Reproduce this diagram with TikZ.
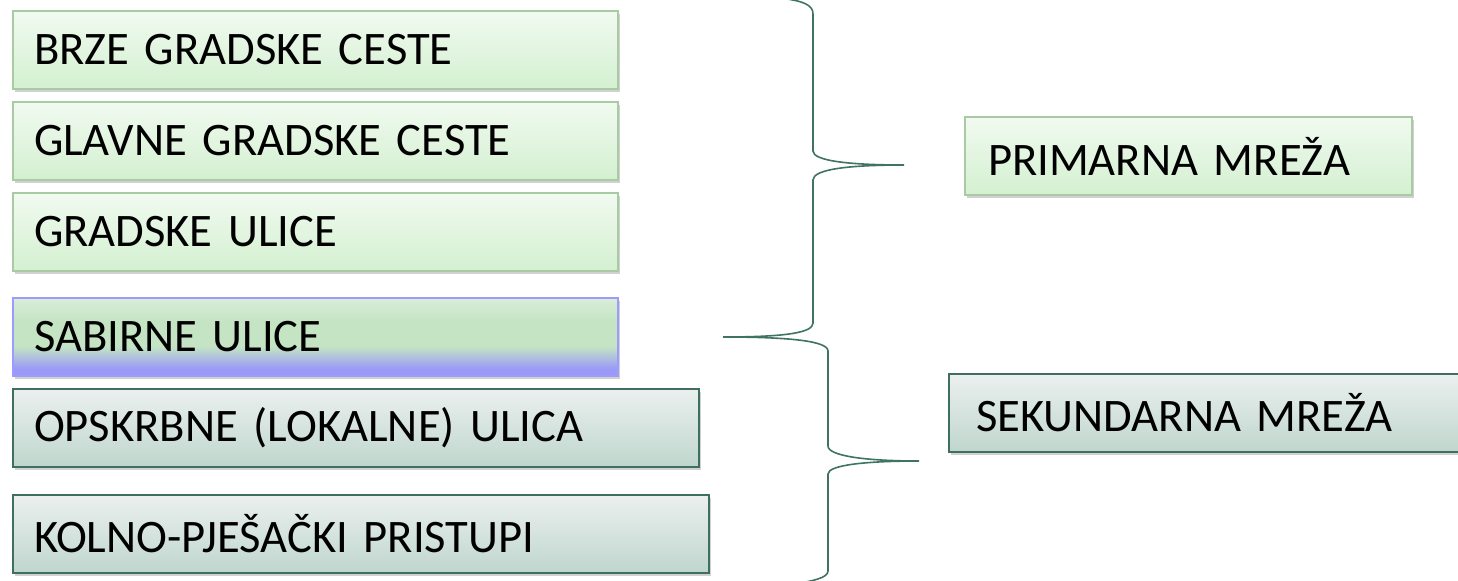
\documentclass[tikz,border=0pt]{standalone}
\usepackage{fontspec}
\setmainfont{Carlito}
\usetikzlibrary{positioning, shadows}
\definecolor{PRtop}{HTML}{F1FAF0}
\definecolor{PRbot}{HTML}{D3F0D0}
\definecolor{PRline}{HTML}{A8CBA4}
\definecolor{SEtop}{HTML}{EBF0EF}
\definecolor{SEbot}{HTML}{BFD6CD}
\definecolor{SEline}{HTML}{3F6F60}
\definecolor{SBtop}{HTML}{DAEDD8}
\definecolor{SBmid}{HTML}{C4E4C4}
\definecolor{SBbot}{HTML}{9B9BF7}
\definecolor{SBline}{HTML}{9C9CFF}
\definecolor{BRline}{HTML}{3F7363}
\newcommand{\boxfont}{\fontsize{23.3}{28}\selectfont}
% green to blue fill of the collector street box
\pgfdeclareverticalshading{sabshade}{100bp}{color(0bp)=(SBbot); color(30bp)=(SBbot);
  color(44bp)=(SBmid); color(60bp)=(SBmid); color(75bp)=(SBtop); color(100bp)=(SBtop)}

\begin{document}
\begin{tikzpicture}[x=0.5pt, y=-0.5pt, font=\boxfont,
    roadbox/.style={anchor=north west, align=left, inner xsep=10.5pt, inner ysep=0pt,
      minimum height=39pt, line width=1pt,
      drop shadow={shadow xshift=0.8pt, shadow yshift=-1.6pt, fill=black, opacity=0.18}},
    primbox/.style={roadbox, draw=PRline, top color=PRtop, bottom color=PRbot},
    secbox/.style={roadbox, draw=SEline, top color=SEtop, bottom color=SEbot},
    brace/.style={draw=BRline, line width=0.8pt}]
    \useasboundingbox (0,0) rectangle (1458,580);
    % road classes, top to bottom
    \node[primbox, text width=281.5pt] (brze) at (12,10) {BRZE GRADSKE CESTE};
    \node[primbox, text width=281.5pt] (glavne) at (12,101) {GLAVNE GRADSKE CESTE};
    \node[primbox, text width=281.5pt] (gradske) at (12,192) {GRADSKE ULICE};
    \node[roadbox, draw=SBline, shading=sabshade, text width=281.5pt] (sabirne) at (12,297) {SABIRNE ULICE};
    \node[secbox, text width=322pt] (opskrbne) at (12,388) {OPSKRBNE (LOKALNE) ULICA};
    \node[secbox, text width=327pt] (kolno) at (12,494) {KOLNO-PJEŠAČKI PRISTUPI};
    % the two networks
    \node[primbox, text width=200.5pt, inner xsep=11.5pt] (primarna) at (964,116) {PRIMARNA MREŽA};
    \node[secbox, text width=230pt, inner xsep=13.5pt] (sekundarna) at (948,373) {SEKUNDARNA MREŽA};
    % braces
    \coordinate (primtip) at (904,165);
    \coordinate (sectip) at (919,461);
    \coordinate (joint) at (723,337);
    \path[brace] (780,-2) .. controls (804,1) and (813,5) .. (813,14) -- (813,151)
      .. controls (813,161) and (850,165) .. (primtip)
      .. controls (850,165) and (813,169) .. (813,180) -- (813,323)
      .. controls (813,332) and (790,337) .. (joint);
    \path[brace] (joint) .. controls (790,337) and (828,341) .. (828,351) -- (828,446)
      .. controls (828,456) and (866,461) .. (sectip)
      .. controls (866,461) and (828,465) .. (828,474) -- (828,571)
      .. controls (828,578) and (812,581) .. (795,584);
\end{tikzpicture}
\end{document}
